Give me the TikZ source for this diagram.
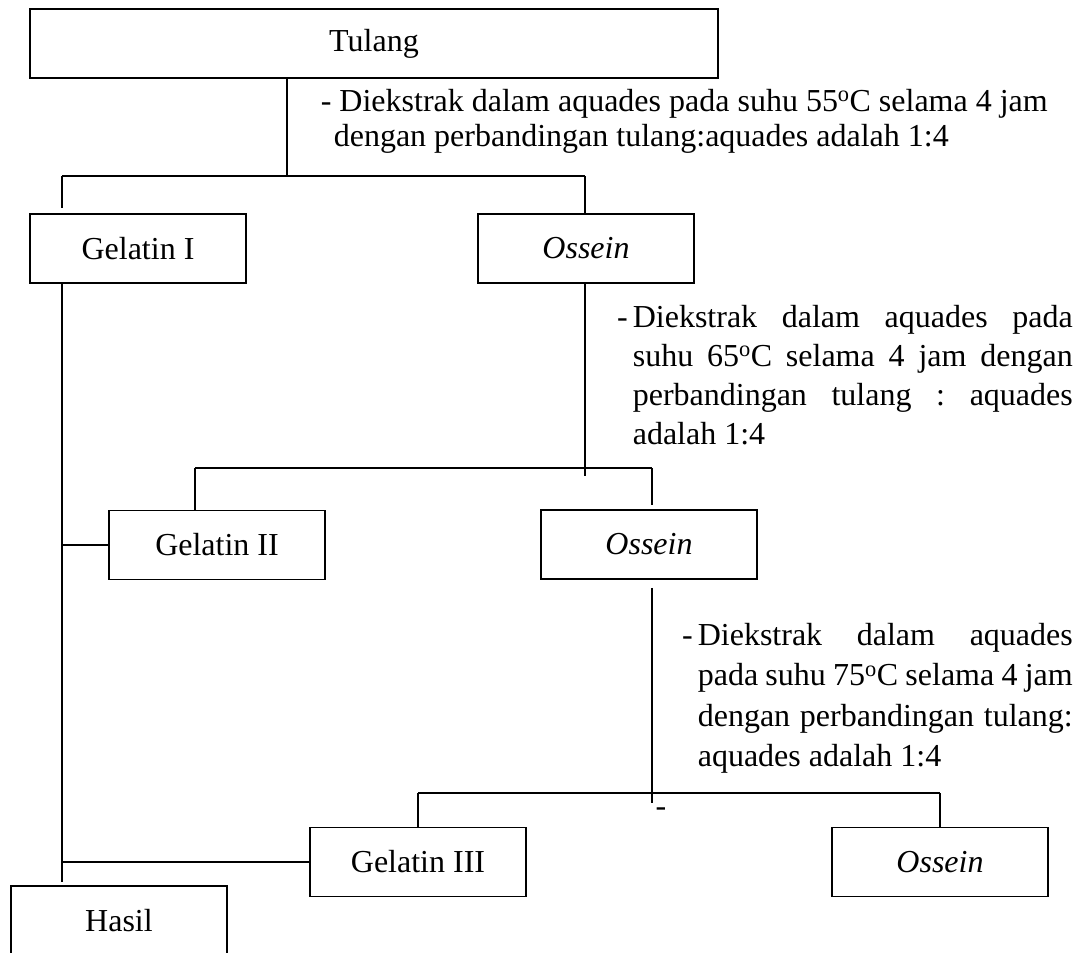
\documentclass[tikz,border=0pt]{standalone}
\usepackage{fontspec}
\setmainfont{Liberation Serif}
\usetikzlibrary{positioning}
\frenchspacing

\begin{document}
\begin{tikzpicture}[x=1pt, y=-1pt, line width=1.6pt,
        kotak/.style={draw, rectangle, minimum width=216, minimum height=69, inner sep=0pt, font=\fontsize{32}{36}\selectfont},
        ket/.style={anchor=north west, inner sep=0pt, align=left}]
        \useasboundingbox (0,0) rectangle (1085,953);
        \node[kotak, minimum width=688] (tulang) at (374,43.5) {Tulang};
        \node[kotak] (gel1) at (138,248.5) {Gelatin I};
        \node[kotak] (oss1) at (586,248.5) {\textit{Ossein}};
        \node[kotak] (gel2) at (217,545) {Gelatin II};
        \node[kotak] (oss2) at (649,544.5) {\textit{Ossein}};
        \node[kotak] (gel3) at (418,862) {Gelatin III};
        \node[kotak] (oss3) at (940,862) {\textit{Ossein}};
        \node[kotak] (hasil) at (119,920.5) {Hasil};
        \node[ket, font=\fontsize{32}{35}\selectfont] (ket1) at (320,88) {- Diekstrak dalam aquades pada suhu 55\textsuperscript{o}C selama 4 jam\\\hspace*{13pt}dengan perbandingan tulang:aquades adalah 1:4};
        \node[ket, font=\fontsize{32}{39}\selectfont] (ket2) at (632,304) {\llap{-\hspace{5pt}}\makebox[440pt][s]{Diekstrak dalam aquades pada}\\\makebox[440pt][s]{suhu 65\textsuperscript{o}C selama 4 jam dengan}\\\makebox[440pt][s]{perbandingan tulang : aquades}\\adalah 1:4};
        \node[ket, font=\fontsize{32}{40.5}\selectfont] (ket3) at (697,622) {\llap{-\hspace{5pt}}\makebox[375pt][s]{Diekstrak dalam aquades}\\\makebox[375pt][s]{pada suhu 75\textsuperscript{o}C selama 4 jam}\\\makebox[375pt][s]{dengan perbandingan tulang:}\\aquades adalah 1:4};
        \node[inner sep=0pt, font=\fontsize{32}{36}\selectfont] (strip) at (661,812) {-};
        \coordinate (c1) at (287,176);
        \coordinate (a1) at (62,176);
        \coordinate (a2) at (585,176);
        \coordinate (a3) at (585,476);
        \coordinate (d1) at (195,468);
        \coordinate (d2) at (652,468);
        \coordinate (d3) at (652,803);
        \coordinate (e1) at (418,793);
        \coordinate (e2) at (940,793);
        \coordinate (b1) at (62,882);
        \draw (tulang.south -| c1) -- (c1);
        \draw (a1) -- (a2);
        \draw (a1) -- ([yshift=5pt]a1 |- gel1.north);
        \draw (a2) -- (a2 |- oss1.north);
        \draw (gel1.south -| a1) -- (b1);
        \draw (gel2.west -| a1) -- (gel2.west);
        \draw (gel3.west -| a1) -- (gel3.west);
        \draw (oss1.south -| a2) -- (a3);
        \draw (d1) -- (d2);
        \draw (d1) -- (d1 |- gel2.north);
        \draw (d2) -- ([yshift=4pt]d2 |- oss2.north);
        \draw ([yshift=-8pt]oss2.south -| d2) -- (d3);
        \draw (e1) -- (e2);
        \draw (e1) -- (e1 |- gel3.north);
        \draw (e2) -- (e2 |- oss3.north);
    \end{tikzpicture}
\end{document}
